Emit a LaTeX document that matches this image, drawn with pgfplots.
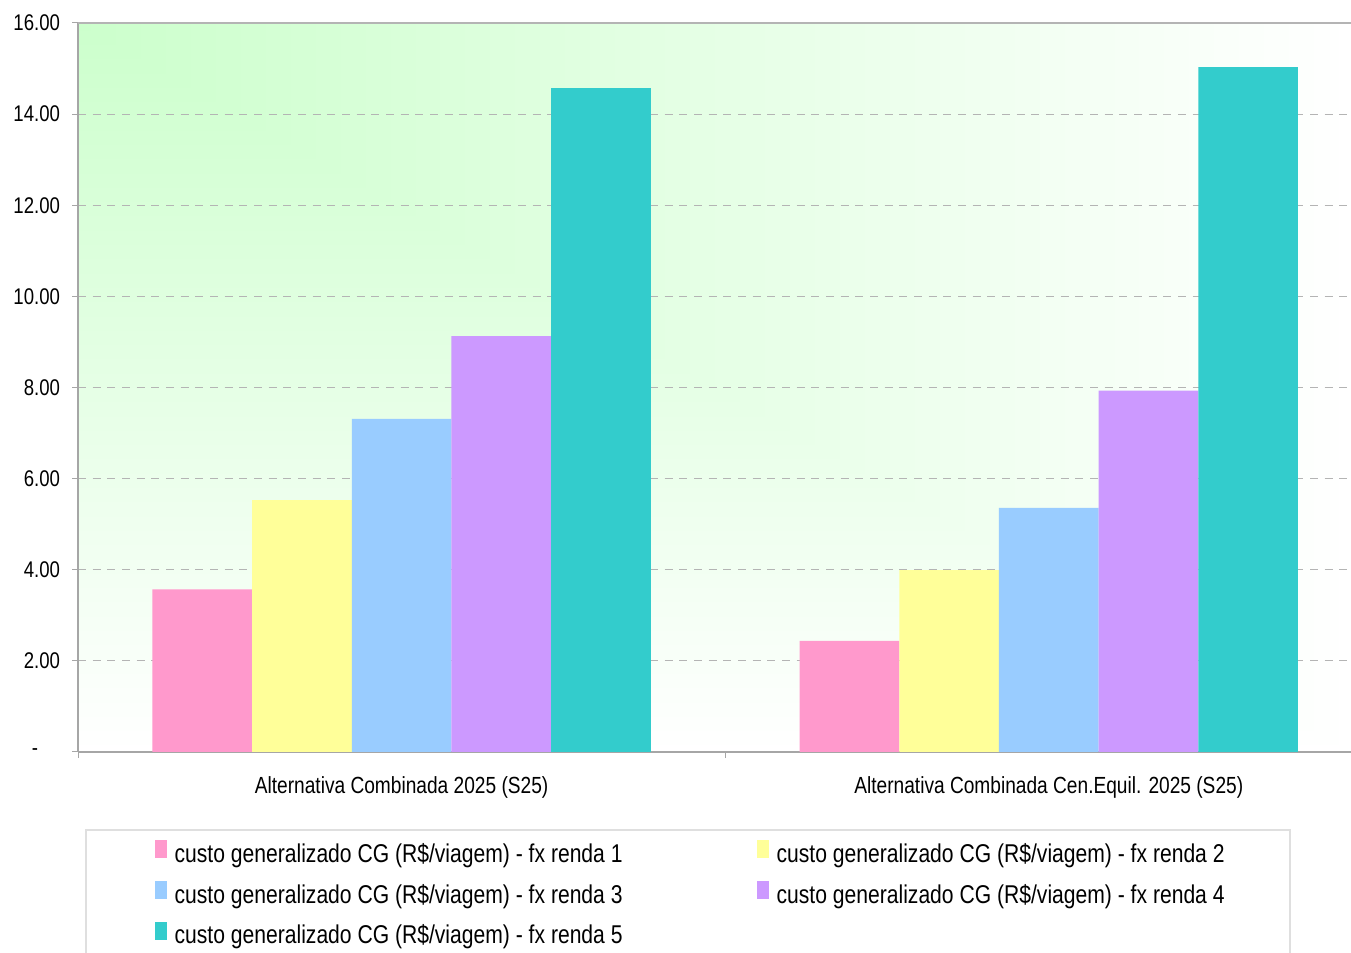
\documentclass[border=0pt]{standalone}
\usepackage{pgfplots}
\pgfplotsset{compat=1.18}
\usepackage{fontspec}
\setmainfont{Liberation Sans}[FakeStretch=0.82]
\definecolor{c1}{HTML}{FF99CC}
\definecolor{c2}{HTML}{FFFF99}
\definecolor{c3}{HTML}{99CCFF}
\definecolor{c4}{HTML}{CC99FF}
\definecolor{c5}{HTML}{33CCCC}
\definecolor{gridc}{HTML}{B4B4B4}
\definecolor{axc}{HTML}{A6A6A6}
\pgfdeclarefunctionalshading{cornerg}{\pgfpoint{-50bp}{-50bp}}{\pgfpoint{50bp}{50bp}}{}{%
  exch 25 add 50 div exch 25 exch sub 50 div 2 copy lt {exch} if pop
  dup 1 gt {pop 1} if dup 0 lt {pop 0} if
  0.2 mul 0.8 add dup 1 exch}
\pgfplotsset{sqlegend/.style={legend image code/.code={\fill[##1, draw=none] (0pt,-2pt) rectangle (9pt,11.5pt);}}}
\begin{document}
\begin{tikzpicture}
\path[use as bounding box] (0,0) rectangle (1013.25pt,714pt);
\begin{axis}[
  at={(58.5pt,150pt)}, anchor=south west, scale only axis,
  width=954.75pt, height=546.75pt,
  xmin=-0.5, xmax=1.467, ymin=0, ymax=16,
  ybar=0pt, bar width=0.154,
  axis x line*=bottom, axis y line*=left,
  axis line style={-, axc, line width=1.5pt},
  axis background/.style={shade, shading=cornerg},
  ytick={0,2,...,16},
  yticklabels={\makebox[21pt][l]{-},2.00,4.00,6.00,8.00,10.00,12.00,14.00,16.00},
  ymajorgrids, grid style={gridc, dash pattern=on 6pt off 5pt, line width=0.75pt},
  tick align=outside, major tick length=4.5pt,
  tick style={axc, line width=0.75pt},
  xtick={-0.5,0.5}, xticklabels={,},
  extra x ticks={0,1},
  extra x tick labels={Alternativa Combinada 2025 (S25), Alternativa Combinada Cen.Equil. 2025 (S25)},
  extra x tick style={major tick length=0pt, xmajorgrids=false},
  xticklabel style={font=\fontsize{17.5}{21}\selectfont, yshift=-15pt},
  yticklabel style={font=\fontsize{17}{20}\selectfont, xshift=-5.5pt},
  legend columns=2,
  legend style={draw=none, fill=none, at={(0.0605,-0.121)}, anchor=north west, inner sep=0pt,
    nodes={inner sep=0pt, text height=14pt, text depth=4pt, font=\fontsize{19.3}{22}\selectfont},
    row sep=10pt, /tikz/every odd column/.append style={column sep=5.5pt}},
]
\addplot[fill=c1, draw=none, sqlegend] coordinates {(0,3.57) (1,2.44)};
\addplot[fill=c2, draw=none, sqlegend] coordinates {(0,5.53) (1,3.99)};
\addplot[fill=c3, draw=none, sqlegend] coordinates {(0,7.31) (1,5.36)};
\addplot[fill=c4, draw=none, sqlegend] coordinates {(0,9.13) (1,7.93)};
\addplot[fill=c5, draw=none, sqlegend] coordinates {(0,14.57) (1,15.03)};
\legend{\makebox[437pt][l]{custo generalizado CG (R\$/viagem) - fx renda 1},
        \makebox[437pt][l]{custo generalizado CG (R\$/viagem) - fx renda 2},
        \makebox[437pt][l]{custo generalizado CG (R\$/viagem) - fx renda 3},
        \makebox[437pt][l]{custo generalizado CG (R\$/viagem) - fx renda 4},
        \makebox[437pt][l]{custo generalizado CG (R\$/viagem) - fx renda 5}}
\draw[gridc, line width=1.5pt] (rel axis cs:0,1) -- (rel axis cs:1,1);
\end{axis}
\draw[gray!25, line width=1.5pt] (64.5pt,-10pt) rectangle (967.5pt,91.5pt);
\end{tikzpicture}
\end{document}
